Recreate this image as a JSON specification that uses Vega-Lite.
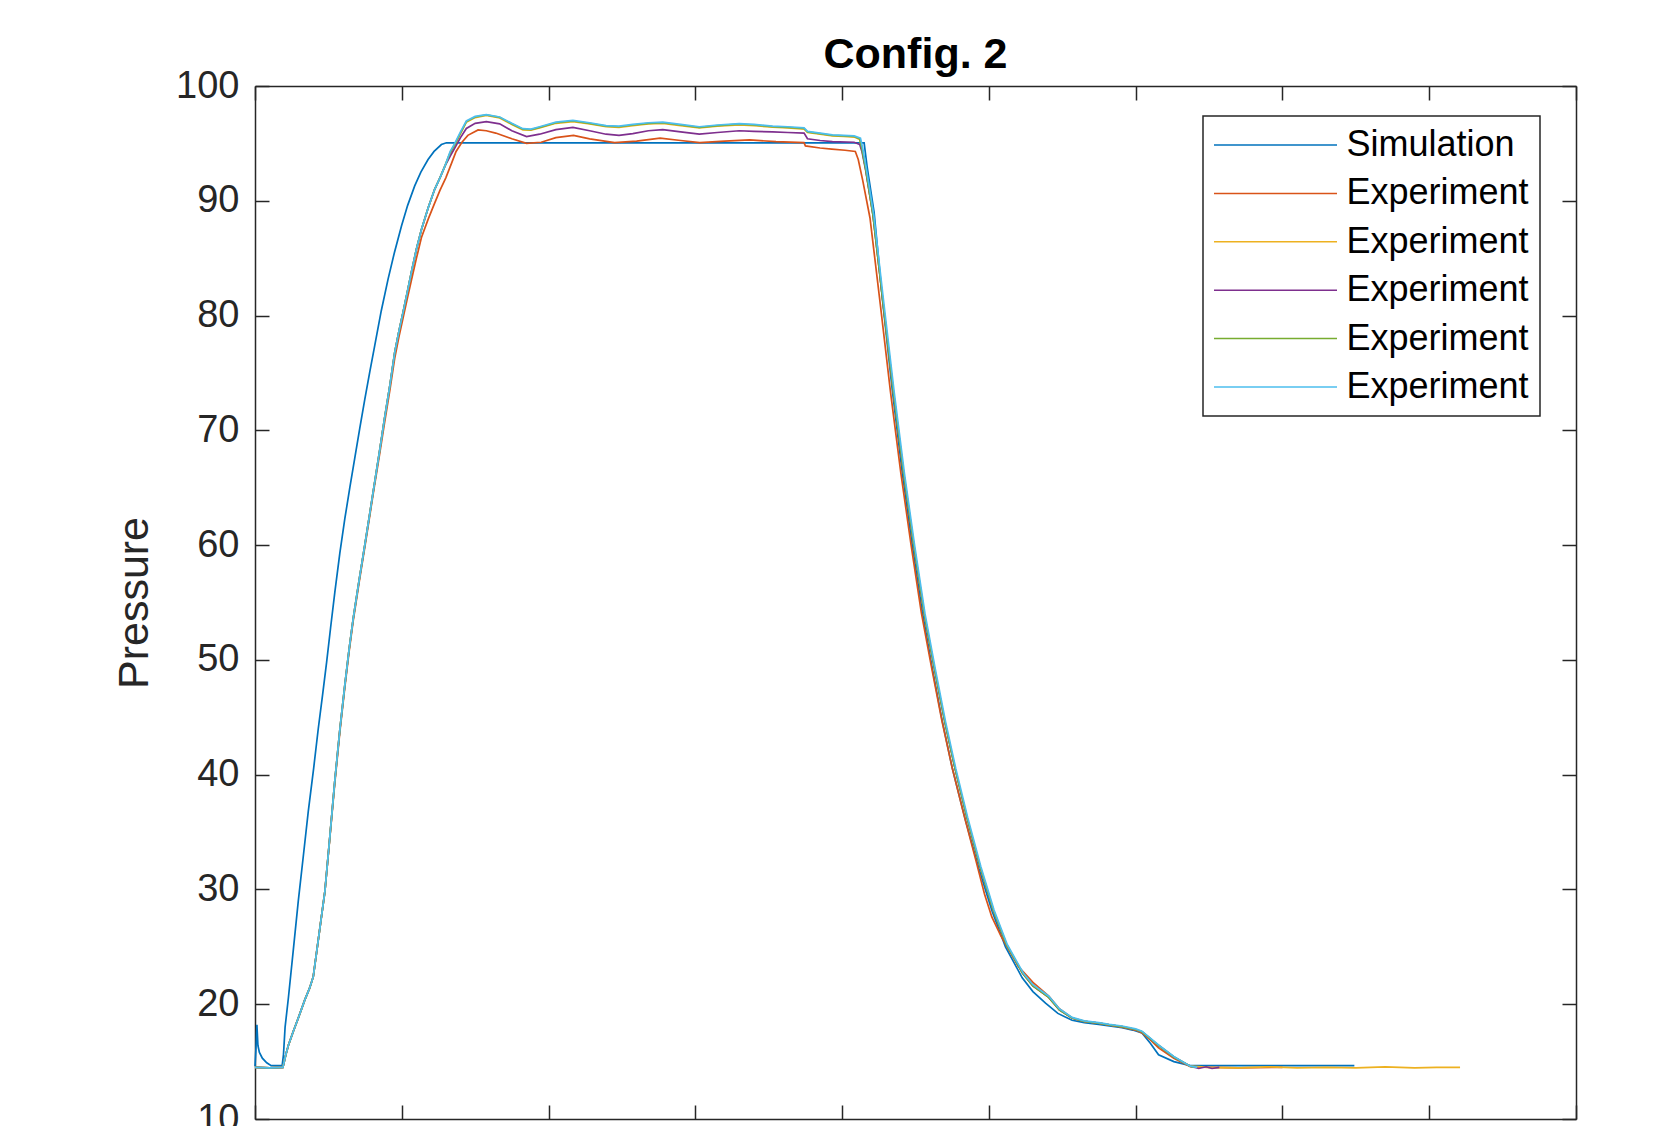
{
"$schema": "https://vega.github.io/schema/vega-lite/v6.json",
"width": 1321, "height": 1033,
"autosize": {"type": "none"},
"padding": {"left": 255, "top": 86, "right": 103, "bottom": 7},
"background": "white",
"title": {"text": "Config. 2", "font": "Liberation Sans", "fontSize": 43, "fontWeight": "bold", "color": "#000000", "anchor": "middle", "baseline": "alphabetic", "offset": -44},
"config": {
  "view": {"stroke": null},
  "axis": {"domainColor": "#262626", "domainWidth": 1.5, "tickColor": "#262626", "tickWidth": 1.5, "tickSize": -14, "grid": false, "labelFont": "Liberation Sans", "labelFontSize": 38, "labelColor": "#262626", "titleFont": "Liberation Sans", "titleFontSize": 43, "titleFontWeight": "normal", "titleColor": "#262626"},
  "legend": {"orient": "none", "legendX": 948, "legendY": 30, "symbolType": "M-4,0H4", "symbolSize": 945.6, "symbolStrokeWidth": 1.5, "symbolOffset": 43.5, "labelOffset": 53, "labelFont": "Liberation Sans", "labelFontSize": 36, "labelColor": "#000000", "padding": 11, "rowPadding": 12.4, "strokeColor": "#262626", "strokeWidth": 1.5, "fillColor": "white", "labelLimit": 0}
},
"data": {"values": [
{"s":"s0","t":0,"p":14.6},{"s":"s0","t":0.006,"p":16.0},{"s":"s0","t":0.013,"p":18.2},{"s":"s0","t":0.02,"p":16.4},{"s":"s0","t":0.03,"p":15.8},{"s":"s0","t":0.05,"p":15.3},{"s":"s0","t":0.08,"p":14.9},{"s":"s0","t":0.11,"p":14.65},{"s":"s0","t":0.185,"p":14.65},{"s":"s0","t":0.194,"p":15.6},{"s":"s0","t":0.205,"p":18.0},{"s":"s0","t":0.227,"p":20.5},{"s":"s0","t":0.26,"p":24.6},{"s":"s0","t":0.295,"p":29.0},{"s":"s0","t":0.33,"p":33.0},{"s":"s0","t":0.363,"p":36.8},{"s":"s0","t":0.40,"p":40.6},{"s":"s0","t":0.431,"p":44.0},{"s":"s0","t":0.46,"p":46.9},{"s":"s0","t":0.488,"p":49.8},{"s":"s0","t":0.515,"p":52.8},{"s":"s0","t":0.544,"p":55.9},{"s":"s0","t":0.578,"p":59.3},{"s":"s0","t":0.612,"p":62.3},{"s":"s0","t":0.646,"p":65.0},{"s":"s0","t":0.680,"p":67.6},{"s":"s0","t":0.714,"p":70.2},{"s":"s0","t":0.748,"p":72.7},{"s":"s0","t":0.782,"p":75.1},{"s":"s0","t":0.816,"p":77.4},{"s":"s0","t":0.86,"p":80.4},{"s":"s0","t":0.907,"p":83.2},{"s":"s0","t":0.95,"p":85.5},{"s":"s0","t":0.998,"p":87.8},{"s":"s0","t":1.04,"p":89.6},{"s":"s0","t":1.088,"p":91.3},{"s":"s0","t":1.13,"p":92.5},{"s":"s0","t":1.179,"p":93.6},{"s":"s0","t":1.22,"p":94.3},{"s":"s0","t":1.27,"p":94.9},{"s":"s0","t":1.304,"p":95.05},{"s":"s0","t":4.15,"p":95.05},{"s":"s0","t":4.17,"p":93.0},{"s":"s0","t":4.218,"p":89.0},{"s":"s0","t":4.274,"p":81.5},{"s":"s0","t":4.342,"p":73.5},{"s":"s0","t":4.41,"p":66.3},{"s":"s0","t":4.478,"p":60.0},{"s":"s0","t":4.546,"p":54.2},{"s":"s0","t":4.614,"p":49.3},{"s":"s0","t":4.682,"p":44.7},{"s":"s0","t":4.75,"p":40.6},{"s":"s0","t":4.841,"p":36.0},{"s":"s0","t":4.932,"p":31.8},{"s":"s0","t":5.022,"p":28.1},{"s":"s0","t":5.113,"p":25.0},{"s":"s0","t":5.227,"p":22.3},{"s":"s0","t":5.30,"p":21.1},{"s":"s0","t":5.386,"p":20.1},{"s":"s0","t":5.47,"p":19.2},{"s":"s0","t":5.567,"p":18.6},{"s":"s0","t":5.65,"p":18.4},{"s":"s0","t":5.748,"p":18.25},{"s":"s0","t":5.907,"p":17.95},{"s":"s0","t":5.98,"p":17.75},{"s":"s0","t":6.043,"p":17.5},{"s":"s0","t":6.10,"p":16.6},{"s":"s0","t":6.156,"p":15.6},{"s":"s0","t":6.26,"p":15.0},{"s":"s0","t":6.372,"p":14.65},{"s":"s0","t":7.49,"p":14.65},

{"s":"s1","t":0,"p":14.5},{"s":"s1","t":0.1,"p":14.45},{"s":"s1","t":0.19,"p":14.5},{"s":"s1","t":0.21,"p":15.6},{"s":"s1","t":0.227,"p":16.4},{"s":"s1","t":0.26,"p":17.6},{"s":"s1","t":0.295,"p":18.8},{"s":"s1","t":0.34,"p":20.4},{"s":"s1","t":0.372,"p":21.4},{"s":"s1","t":0.397,"p":22.4},{"s":"s1","t":0.43,"p":25.5},{"s":"s1","t":0.476,"p":29.8},{"s":"s1","t":0.51,"p":34.5},{"s":"s1","t":0.544,"p":39.3},{"s":"s1","t":0.578,"p":43.7},{"s":"s1","t":0.612,"p":47.6},{"s":"s1","t":0.64,"p":50.6},{"s":"s1","t":0.669,"p":53.4},{"s":"s1","t":0.71,"p":56.8},{"s":"s1","t":0.748,"p":59.8},{"s":"s1","t":0.78,"p":62.4},{"s":"s1","t":0.812,"p":65.0},{"s":"s1","t":0.85,"p":68.0},{"s":"s1","t":0.882,"p":70.6},{"s":"s1","t":0.92,"p":73.6},{"s":"s1","t":0.952,"p":76.3},{"s":"s1","t":0.98,"p":78.1},{"s":"s1","t":1.009,"p":79.8},{"s":"s1","t":1.04,"p":81.6},{"s":"s1","t":1.066,"p":83.1},{"s":"s1","t":1.10,"p":85.0},{"s":"s1","t":1.134,"p":86.8},{"s":"s1","t":1.18,"p":88.4},{"s":"s1","t":1.224,"p":89.8},{"s":"s1","t":1.26,"p":90.9},{"s":"s1","t":1.30,"p":92.0},{"s":"s1","t":1.34,"p":93.3},{"s":"s1","t":1.37,"p":94.3},{"s":"s1","t":1.41,"p":95.1},{"s":"s1","t":1.45,"p":95.7},{"s":"s1","t":1.52,"p":96.17},{"s":"s1","t":1.576,"p":96.1},{"s":"s1","t":1.64,"p":95.9},{"s":"s1","t":1.75,"p":95.4},{"s":"s1","t":1.85,"p":95.0},{"s":"s1","t":1.95,"p":95.1},{"s":"s1","t":2.05,"p":95.5},{"s":"s1","t":2.17,"p":95.7},{"s":"s1","t":2.28,"p":95.4},{"s":"s1","t":2.45,"p":95.07},{"s":"s1","t":2.6,"p":95.2},{"s":"s1","t":2.76,"p":95.45},{"s":"s1","t":2.9,"p":95.25},{"s":"s1","t":3.03,"p":95.07},{"s":"s1","t":3.2,"p":95.2},{"s":"s1","t":3.37,"p":95.3},{"s":"s1","t":3.55,"p":95.15},{"s":"s1","t":3.74,"p":95.07},{"s":"s1","t":3.75,"p":94.78},{"s":"s1","t":3.85,"p":94.6},{"s":"s1","t":3.93,"p":94.5},{"s":"s1","t":4.02,"p":94.4},{"s":"s1","t":4.09,"p":94.3},{"s":"s1","t":4.11,"p":93.6},{"s":"s1","t":4.14,"p":91.8},{"s":"s1","t":4.19,"p":88.5},{"s":"s1","t":4.26,"p":81.0},{"s":"s1","t":4.33,"p":73.3},{"s":"s1","t":4.40,"p":66.3},{"s":"s1","t":4.47,"p":60.0},{"s":"s1","t":4.54,"p":54.1},{"s":"s1","t":4.61,"p":49.3},{"s":"s1","t":4.68,"p":44.7},{"s":"s1","t":4.75,"p":40.6},{"s":"s1","t":4.83,"p":36.5},{"s":"s1","t":4.91,"p":32.6},{"s":"s1","t":4.97,"p":29.6},{"s":"s1","t":5.02,"p":27.6},{"s":"s1","t":5.08,"p":26.0},{"s":"s1","t":5.2,"p":23.3},{"s":"s1","t":5.3,"p":21.9},{"s":"s1","t":5.408,"p":20.7},{"s":"s1","t":5.48,"p":19.6},{"s":"s1","t":5.567,"p":18.8},{"s":"s1","t":5.65,"p":18.5},{"s":"s1","t":5.748,"p":18.35},{"s":"s1","t":5.82,"p":18.2},{"s":"s1","t":5.907,"p":18.0},{"s":"s1","t":6.0,"p":17.75},{"s":"s1","t":6.043,"p":17.5},{"s":"s1","t":6.10,"p":16.9},{"s":"s1","t":6.156,"p":16.2},{"s":"s1","t":6.26,"p":15.3},{"s":"s1","t":6.372,"p":14.55},{"s":"s1","t":6.5,"p":14.5},{"s":"s1","t":6.7,"p":14.45},{"s":"s1","t":7.0,"p":14.5},

{"s":"s2","t":0,"p":14.5},{"s":"s2","t":0.1,"p":14.45},{"s":"s2","t":0.19,"p":14.5},{"s":"s2","t":0.21,"p":15.6},{"s":"s2","t":0.227,"p":16.4},{"s":"s2","t":0.26,"p":17.6},{"s":"s2","t":0.295,"p":18.8},{"s":"s2","t":0.34,"p":20.4},{"s":"s2","t":0.372,"p":21.4},{"s":"s2","t":0.397,"p":22.4},{"s":"s2","t":0.43,"p":25.5},{"s":"s2","t":0.476,"p":29.8},{"s":"s2","t":0.51,"p":34.6},{"s":"s2","t":0.544,"p":39.5},{"s":"s2","t":0.578,"p":43.9},{"s":"s2","t":0.612,"p":47.8},{"s":"s2","t":0.64,"p":50.8},{"s":"s2","t":0.669,"p":53.6},{"s":"s2","t":0.71,"p":57.0},{"s":"s2","t":0.748,"p":60.0},{"s":"s2","t":0.78,"p":62.6},{"s":"s2","t":0.812,"p":65.2},{"s":"s2","t":0.85,"p":68.3},{"s":"s2","t":0.882,"p":71.0},{"s":"s2","t":0.92,"p":74.0},{"s":"s2","t":0.952,"p":76.8},{"s":"s2","t":0.98,"p":78.6},{"s":"s2","t":1.009,"p":80.3},{"s":"s2","t":1.04,"p":82.2},{"s":"s2","t":1.066,"p":83.8},{"s":"s2","t":1.10,"p":85.8},{"s":"s2","t":1.134,"p":87.5},{"s":"s2","t":1.18,"p":89.4},{"s":"s2","t":1.224,"p":91.0},{"s":"s2","t":1.26,"p":92.0},{"s":"s2","t":1.293,"p":93.0},{"s":"s2","t":1.33,"p":94.2},{"s":"s2","t":1.361,"p":94.85},{"s":"s2","t":1.40,"p":95.85},{"s":"s2","t":1.44,"p":96.85},{"s":"s2","t":1.50,"p":97.25},{"s":"s2","t":1.576,"p":97.43},{"s":"s2","t":1.667,"p":97.22},{"s":"s2","t":1.75,"p":96.65},{"s":"s2","t":1.825,"p":96.18},{"s":"s2","t":1.88,"p":96.15},{"s":"s2","t":1.939,"p":96.35},{"s":"s2","t":2.05,"p":96.75},{"s":"s2","t":2.166,"p":96.9},{"s":"s2","t":2.28,"p":96.7},{"s":"s2","t":2.392,"p":96.45},{"s":"s2","t":2.48,"p":96.4},{"s":"s2","t":2.574,"p":96.55},{"s":"s2","t":2.68,"p":96.7},{"s":"s2","t":2.778,"p":96.75},{"s":"s2","t":2.90,"p":96.55},{"s":"s2","t":3.027,"p":96.35},{"s":"s2","t":3.15,"p":96.5},{"s":"s2","t":3.299,"p":96.62},{"s":"s2","t":3.40,"p":96.55},{"s":"s2","t":3.526,"p":96.41},{"s":"s2","t":3.63,"p":96.35},{"s":"s2","t":3.741,"p":96.25},{"s":"s2","t":3.764,"p":95.95},{"s":"s2","t":3.85,"p":95.8},{"s":"s2","t":3.934,"p":95.65},{"s":"s2","t":4.01,"p":95.6},{"s":"s2","t":4.082,"p":95.55},{"s":"s2","t":4.12,"p":95.35},{"s":"s2","t":4.135,"p":94.5},{"s":"s2","t":4.16,"p":92.8},{"s":"s2","t":4.21,"p":88.8},{"s":"s2","t":4.28,"p":81.0},{"s":"s2","t":4.35,"p":73.3},{"s":"s2","t":4.42,"p":66.2},{"s":"s2","t":4.49,"p":59.9},{"s":"s2","t":4.56,"p":54.0},{"s":"s2","t":4.63,"p":49.2},{"s":"s2","t":4.70,"p":44.6},{"s":"s2","t":4.77,"p":40.5},{"s":"s2","t":4.85,"p":36.3},{"s":"s2","t":4.94,"p":32.0},{"s":"s2","t":5.03,"p":28.2},{"s":"s2","t":5.12,"p":25.2},{"s":"s2","t":5.23,"p":22.7},{"s":"s2","t":5.30,"p":21.6},{"s":"s2","t":5.408,"p":20.6},{"s":"s2","t":5.48,"p":19.5},{"s":"s2","t":5.567,"p":18.8},{"s":"s2","t":5.65,"p":18.5},{"s":"s2","t":5.748,"p":18.35},{"s":"s2","t":5.82,"p":18.2},{"s":"s2","t":5.907,"p":18.05},{"s":"s2","t":6.0,"p":17.8},{"s":"s2","t":6.043,"p":17.6},{"s":"s2","t":6.10,"p":17.0},{"s":"s2","t":6.156,"p":16.4},{"s":"s2","t":6.26,"p":15.4},{"s":"s2","t":6.372,"p":14.6},{"s":"s2","t":6.5,"p":14.5},{"s":"s2","t":6.7,"p":14.45},{"s":"s2","t":6.9,"p":14.55},{"s":"s2","t":7.1,"p":14.45},{"s":"s2","t":7.3,"p":14.5},{"s":"s2","t":7.5,"p":14.45},{"s":"s2","t":7.7,"p":14.55},{"s":"s2","t":7.9,"p":14.45},{"s":"s2","t":8.05,"p":14.5},{"s":"s2","t":8.21,"p":14.5},

{"s":"s3","t":0,"p":14.5},{"s":"s3","t":0.1,"p":14.45},{"s":"s3","t":0.19,"p":14.5},{"s":"s3","t":0.21,"p":15.6},{"s":"s3","t":0.227,"p":16.4},{"s":"s3","t":0.26,"p":17.6},{"s":"s3","t":0.295,"p":18.8},{"s":"s3","t":0.34,"p":20.4},{"s":"s3","t":0.372,"p":21.4},{"s":"s3","t":0.397,"p":22.4},{"s":"s3","t":0.43,"p":25.5},{"s":"s3","t":0.476,"p":29.8},{"s":"s3","t":0.51,"p":34.6},{"s":"s3","t":0.544,"p":39.5},{"s":"s3","t":0.578,"p":43.9},{"s":"s3","t":0.612,"p":47.8},{"s":"s3","t":0.64,"p":50.8},{"s":"s3","t":0.669,"p":53.6},{"s":"s3","t":0.71,"p":57.0},{"s":"s3","t":0.748,"p":60.0},{"s":"s3","t":0.78,"p":62.6},{"s":"s3","t":0.812,"p":65.2},{"s":"s3","t":0.85,"p":68.3},{"s":"s3","t":0.882,"p":71.0},{"s":"s3","t":0.92,"p":74.0},{"s":"s3","t":0.952,"p":76.8},{"s":"s3","t":0.98,"p":78.6},{"s":"s3","t":1.009,"p":80.3},{"s":"s3","t":1.04,"p":82.2},{"s":"s3","t":1.066,"p":83.8},{"s":"s3","t":1.10,"p":85.8},{"s":"s3","t":1.134,"p":87.5},{"s":"s3","t":1.18,"p":89.4},{"s":"s3","t":1.224,"p":91.0},{"s":"s3","t":1.26,"p":92.0},{"s":"s3","t":1.293,"p":93.0},{"s":"s3","t":1.33,"p":93.9},{"s":"s3","t":1.361,"p":94.6},{"s":"s3","t":1.40,"p":95.5},{"s":"s3","t":1.44,"p":96.3},{"s":"s3","t":1.50,"p":96.75},{"s":"s3","t":1.576,"p":96.9},{"s":"s3","t":1.667,"p":96.7},{"s":"s3","t":1.75,"p":96.1},{"s":"s3","t":1.85,"p":95.6},{"s":"s3","t":1.939,"p":95.8},{"s":"s3","t":2.05,"p":96.2},{"s":"s3","t":2.166,"p":96.4},{"s":"s3","t":2.28,"p":96.1},{"s":"s3","t":2.392,"p":95.8},{"s":"s3","t":2.48,"p":95.7},{"s":"s3","t":2.574,"p":95.85},{"s":"s3","t":2.68,"p":96.1},{"s":"s3","t":2.778,"p":96.2},{"s":"s3","t":2.90,"p":96.0},{"s":"s3","t":3.027,"p":95.8},{"s":"s3","t":3.15,"p":95.95},{"s":"s3","t":3.299,"p":96.1},{"s":"s3","t":3.40,"p":96.05},{"s":"s3","t":3.526,"p":96.0},{"s":"s3","t":3.63,"p":95.95},{"s":"s3","t":3.741,"p":95.9},{"s":"s3","t":3.764,"p":95.4},{"s":"s3","t":3.85,"p":95.25},{"s":"s3","t":3.934,"p":95.15},{"s":"s3","t":4.082,"p":95.1},{"s":"s3","t":4.12,"p":94.9},{"s":"s3","t":4.135,"p":94.3},{"s":"s3","t":4.16,"p":92.7},{"s":"s3","t":4.21,"p":88.8},{"s":"s3","t":4.28,"p":81.0},{"s":"s3","t":4.35,"p":73.3},{"s":"s3","t":4.42,"p":66.2},{"s":"s3","t":4.49,"p":59.9},{"s":"s3","t":4.56,"p":54.0},{"s":"s3","t":4.63,"p":49.2},{"s":"s3","t":4.70,"p":44.6},{"s":"s3","t":4.77,"p":40.5},{"s":"s3","t":4.85,"p":36.3},{"s":"s3","t":4.94,"p":32.0},{"s":"s3","t":5.03,"p":28.2},{"s":"s3","t":5.12,"p":25.2},{"s":"s3","t":5.23,"p":22.7},{"s":"s3","t":5.30,"p":21.6},{"s":"s3","t":5.408,"p":20.6},{"s":"s3","t":5.48,"p":19.5},{"s":"s3","t":5.567,"p":18.8},{"s":"s3","t":5.65,"p":18.5},{"s":"s3","t":5.748,"p":18.35},{"s":"s3","t":5.82,"p":18.2},{"s":"s3","t":5.907,"p":18.05},{"s":"s3","t":6.0,"p":17.8},{"s":"s3","t":6.043,"p":17.6},{"s":"s3","t":6.10,"p":17.0},{"s":"s3","t":6.156,"p":16.4},{"s":"s3","t":6.26,"p":15.4},{"s":"s3","t":6.372,"p":14.6},{"s":"s3","t":6.43,"p":14.4},{"s":"s3","t":6.48,"p":14.55},{"s":"s3","t":6.52,"p":14.4},{"s":"s3","t":6.57,"p":14.5},

{"s":"s4","t":0,"p":14.5},{"s":"s4","t":0.1,"p":14.45},{"s":"s4","t":0.19,"p":14.5},{"s":"s4","t":0.21,"p":15.6},{"s":"s4","t":0.227,"p":16.4},{"s":"s4","t":0.26,"p":17.6},{"s":"s4","t":0.295,"p":18.8},{"s":"s4","t":0.34,"p":20.4},{"s":"s4","t":0.372,"p":21.4},{"s":"s4","t":0.397,"p":22.4},{"s":"s4","t":0.43,"p":25.5},{"s":"s4","t":0.476,"p":29.8},{"s":"s4","t":0.51,"p":34.6},{"s":"s4","t":0.544,"p":39.5},{"s":"s4","t":0.578,"p":43.9},{"s":"s4","t":0.612,"p":47.8},{"s":"s4","t":0.64,"p":50.8},{"s":"s4","t":0.669,"p":53.6},{"s":"s4","t":0.71,"p":57.0},{"s":"s4","t":0.748,"p":60.0},{"s":"s4","t":0.78,"p":62.6},{"s":"s4","t":0.812,"p":65.2},{"s":"s4","t":0.85,"p":68.3},{"s":"s4","t":0.882,"p":71.0},{"s":"s4","t":0.92,"p":74.0},{"s":"s4","t":0.952,"p":76.8},{"s":"s4","t":0.98,"p":78.6},{"s":"s4","t":1.009,"p":80.3},{"s":"s4","t":1.04,"p":82.2},{"s":"s4","t":1.066,"p":83.8},{"s":"s4","t":1.10,"p":85.8},{"s":"s4","t":1.134,"p":87.5},{"s":"s4","t":1.18,"p":89.4},{"s":"s4","t":1.224,"p":91.0},{"s":"s4","t":1.26,"p":92.0},{"s":"s4","t":1.293,"p":93.0},{"s":"s4","t":1.33,"p":94.2},{"s":"s4","t":1.361,"p":94.9},{"s":"s4","t":1.40,"p":95.9},{"s":"s4","t":1.44,"p":96.9},{"s":"s4","t":1.50,"p":97.3},{"s":"s4","t":1.576,"p":97.48},{"s":"s4","t":1.667,"p":97.27},{"s":"s4","t":1.75,"p":96.7},{"s":"s4","t":1.825,"p":96.23},{"s":"s4","t":1.88,"p":96.2},{"s":"s4","t":1.939,"p":96.4},{"s":"s4","t":2.05,"p":96.8},{"s":"s4","t":2.166,"p":96.95},{"s":"s4","t":2.28,"p":96.75},{"s":"s4","t":2.392,"p":96.5},{"s":"s4","t":2.48,"p":96.45},{"s":"s4","t":2.574,"p":96.6},{"s":"s4","t":2.68,"p":96.75},{"s":"s4","t":2.778,"p":96.8},{"s":"s4","t":2.90,"p":96.6},{"s":"s4","t":3.027,"p":96.4},{"s":"s4","t":3.15,"p":96.55},{"s":"s4","t":3.299,"p":96.67},{"s":"s4","t":3.40,"p":96.6},{"s":"s4","t":3.526,"p":96.46},{"s":"s4","t":3.63,"p":96.4},{"s":"s4","t":3.741,"p":96.3},{"s":"s4","t":3.764,"p":96.0},{"s":"s4","t":3.85,"p":95.85},{"s":"s4","t":3.934,"p":95.7},{"s":"s4","t":4.01,"p":95.65},{"s":"s4","t":4.082,"p":95.6},{"s":"s4","t":4.12,"p":95.4},{"s":"s4","t":4.135,"p":94.5},{"s":"s4","t":4.16,"p":92.8},{"s":"s4","t":4.21,"p":88.8},{"s":"s4","t":4.28,"p":81.0},{"s":"s4","t":4.35,"p":73.3},{"s":"s4","t":4.42,"p":66.2},{"s":"s4","t":4.49,"p":59.9},{"s":"s4","t":4.56,"p":54.0},{"s":"s4","t":4.63,"p":49.2},{"s":"s4","t":4.70,"p":44.6},{"s":"s4","t":4.77,"p":40.5},{"s":"s4","t":4.85,"p":36.3},{"s":"s4","t":4.94,"p":32.0},{"s":"s4","t":5.03,"p":28.2},{"s":"s4","t":5.12,"p":25.2},{"s":"s4","t":5.23,"p":22.7},{"s":"s4","t":5.30,"p":21.6},{"s":"s4","t":5.408,"p":20.6},{"s":"s4","t":5.48,"p":19.5},{"s":"s4","t":5.567,"p":18.8},{"s":"s4","t":5.65,"p":18.5},{"s":"s4","t":5.748,"p":18.35},{"s":"s4","t":5.82,"p":18.2},{"s":"s4","t":5.907,"p":18.05},{"s":"s4","t":6.0,"p":17.8},{"s":"s4","t":6.043,"p":17.6},{"s":"s4","t":6.10,"p":17.0},{"s":"s4","t":6.156,"p":16.4},{"s":"s4","t":6.26,"p":15.4},{"s":"s4","t":6.372,"p":14.6},{"s":"s4","t":6.40,"p":14.5},

{"s":"s5","t":0,"p":14.5},{"s":"s5","t":0.1,"p":14.45},{"s":"s5","t":0.19,"p":14.5},{"s":"s5","t":0.21,"p":15.6},{"s":"s5","t":0.227,"p":16.4},{"s":"s5","t":0.26,"p":17.6},{"s":"s5","t":0.295,"p":18.8},{"s":"s5","t":0.34,"p":20.4},{"s":"s5","t":0.372,"p":21.4},{"s":"s5","t":0.397,"p":22.4},{"s":"s5","t":0.43,"p":25.5},{"s":"s5","t":0.476,"p":29.8},{"s":"s5","t":0.51,"p":34.6},{"s":"s5","t":0.544,"p":39.5},{"s":"s5","t":0.578,"p":43.9},{"s":"s5","t":0.612,"p":47.8},{"s":"s5","t":0.64,"p":50.8},{"s":"s5","t":0.669,"p":53.6},{"s":"s5","t":0.71,"p":57.0},{"s":"s5","t":0.748,"p":60.0},{"s":"s5","t":0.78,"p":62.6},{"s":"s5","t":0.812,"p":65.2},{"s":"s5","t":0.85,"p":68.3},{"s":"s5","t":0.882,"p":71.0},{"s":"s5","t":0.92,"p":74.0},{"s":"s5","t":0.952,"p":76.8},{"s":"s5","t":0.98,"p":78.6},{"s":"s5","t":1.009,"p":80.3},{"s":"s5","t":1.04,"p":82.2},{"s":"s5","t":1.066,"p":83.8},{"s":"s5","t":1.10,"p":85.8},{"s":"s5","t":1.134,"p":87.5},{"s":"s5","t":1.18,"p":89.4},{"s":"s5","t":1.224,"p":91.0},{"s":"s5","t":1.26,"p":92.0},{"s":"s5","t":1.293,"p":93.0},{"s":"s5","t":1.33,"p":94.3},{"s":"s5","t":1.361,"p":95.0},{"s":"s5","t":1.40,"p":96.0},{"s":"s5","t":1.44,"p":96.95},{"s":"s5","t":1.50,"p":97.35},{"s":"s5","t":1.576,"p":97.5},{"s":"s5","t":1.667,"p":97.3},{"s":"s5","t":1.75,"p":96.75},{"s":"s5","t":1.825,"p":96.28},{"s":"s5","t":1.88,"p":96.25},{"s":"s5","t":1.939,"p":96.45},{"s":"s5","t":2.05,"p":96.85},{"s":"s5","t":2.166,"p":97.0},{"s":"s5","t":2.28,"p":96.8},{"s":"s5","t":2.392,"p":96.55},{"s":"s5","t":2.48,"p":96.5},{"s":"s5","t":2.574,"p":96.65},{"s":"s5","t":2.68,"p":96.8},{"s":"s5","t":2.778,"p":96.85},{"s":"s5","t":2.90,"p":96.65},{"s":"s5","t":3.027,"p":96.45},{"s":"s5","t":3.15,"p":96.6},{"s":"s5","t":3.299,"p":96.72},{"s":"s5","t":3.40,"p":96.65},{"s":"s5","t":3.526,"p":96.5},{"s":"s5","t":3.63,"p":96.45},{"s":"s5","t":3.741,"p":96.35},{"s":"s5","t":3.764,"p":96.05},{"s":"s5","t":3.85,"p":95.9},{"s":"s5","t":3.934,"p":95.75},{"s":"s5","t":4.01,"p":95.7},{"s":"s5","t":4.082,"p":95.65},{"s":"s5","t":4.125,"p":95.45},{"s":"s5","t":4.14,"p":94.6},{"s":"s5","t":4.165,"p":92.8},{"s":"s5","t":4.215,"p":88.8},{"s":"s5","t":4.285,"p":81.0},{"s":"s5","t":4.355,"p":73.3},{"s":"s5","t":4.425,"p":66.2},{"s":"s5","t":4.495,"p":59.9},{"s":"s5","t":4.565,"p":54.0},{"s":"s5","t":4.635,"p":49.2},{"s":"s5","t":4.705,"p":44.6},{"s":"s5","t":4.775,"p":40.5},{"s":"s5","t":4.855,"p":36.3},{"s":"s5","t":4.945,"p":32.0},{"s":"s5","t":5.035,"p":28.2},{"s":"s5","t":5.125,"p":25.2},{"s":"s5","t":5.235,"p":22.7},{"s":"s5","t":5.30,"p":21.7},{"s":"s5","t":5.408,"p":20.7},{"s":"s5","t":5.48,"p":19.6},{"s":"s5","t":5.567,"p":18.85},{"s":"s5","t":5.65,"p":18.55},{"s":"s5","t":5.748,"p":18.4},{"s":"s5","t":5.82,"p":18.25},{"s":"s5","t":5.907,"p":18.1},{"s":"s5","t":6.0,"p":17.85},{"s":"s5","t":6.043,"p":17.65},{"s":"s5","t":6.10,"p":17.05},{"s":"s5","t":6.156,"p":16.45},{"s":"s5","t":6.26,"p":15.45},{"s":"s5","t":6.372,"p":14.6},{"s":"s5","t":6.42,"p":14.5}
]},
"layer": [
  {
    "mark": {"type": "line", "strokeWidth": 1.7, "interpolate": "linear"},
    "encoding": {
      "x": {"field": "t", "type": "quantitative", "scale": {"domain": [0, 9], "nice": false, "zero": false}, "axis": {"orient": "bottom", "values": [0,1,2,3,4,5,6,7,8,9], "labels": false, "title": null}},
      "y": {"field": "p", "type": "quantitative", "scale": {"domain": [10, 100], "nice": false, "zero": false}, "axis": {"orient": "left", "values": [10,20,30,40,50,60,70,80,90,100], "labelPadding": 30, "title": "Pressure", "titleX": -121, "titleY": 516.5, "titleAngle": -90, "titleBaseline": "middle", "titleAlign": "center"}},
      "color": {"field": "s", "type": "nominal", "scale": {"domain": ["s0","s1","s2","s3","s4","s5"], "range": ["#0072BD","#D95319","#EDB120","#7E2F8E","#77AC30","#4DBEEE"]}, "legend": {"title": null, "labelExpr": "datum.label == 's0' ? 'Simulation' : 'Experiment'"}}
    }
  },
  {
    "mark": {"type": "point", "opacity": 0},
    "encoding": {
      "x": {"field": "t", "type": "quantitative", "axis": {"orient": "top", "values": [0,1,2,3,4,5,6,7,8,9], "labels": false, "title": null}},
      "y": {"field": "p", "type": "quantitative", "axis": {"orient": "right", "values": [10,20,30,40,50,60,70,80,90,100], "labels": false, "title": null}}
    }
  }
],
"resolve": {"axis": {"x": "independent", "y": "independent"}}
}
